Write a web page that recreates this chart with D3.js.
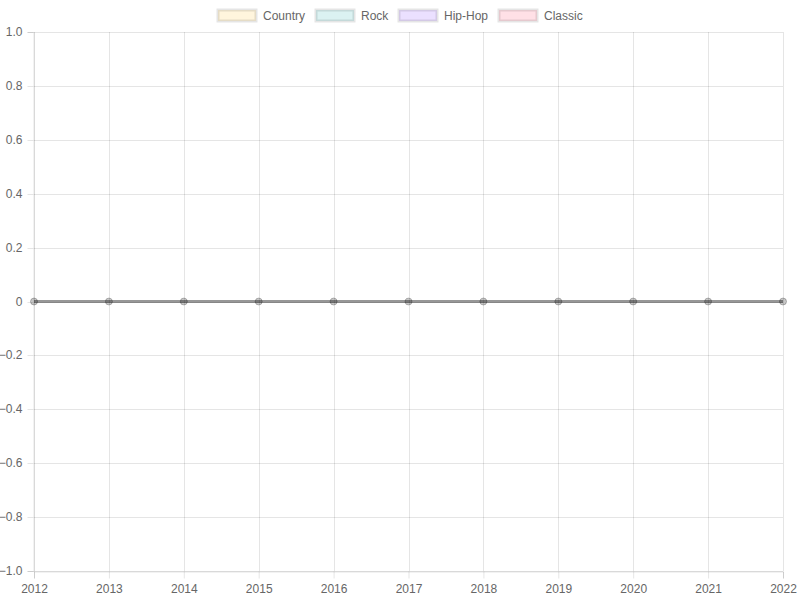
<!DOCTYPE html>
<html><head><meta charset="utf-8">
<script src="https://cdn.jsdelivr.net/npm/d3@7"></script>
<style>body{margin:0;background:#fff}svg{display:block;font-family:"Liberation Sans",Arial,sans-serif}</style>
</head><body><svg id="c" width="800" height="600"></svg>
<script>
const years = ["2012","2013","2014","2015","2016","2017","2018","2019","2020","2021","2022"];
const seriesNames = ["Country","Rock","Hip-Hop","Classic"];
const seriesFill = ["rgba(255,206,86,0.2)","rgba(75,192,192,0.2)","rgba(153,102,255,0.2)","rgba(255,99,132,0.2)"];
const country = [0,0,0,0,0,0,0,0,0,0,0];
const rock = [0,0,0,0,0,0,0,0,0,0,0];
const hipHop = [0,0,0,0,0,0,0,0,0,0,0];
const classic = [0,0,0,0,0,0,0,0,0,0,0];
const yTicks = [-1.0,-0.8,-0.6,-0.4,-0.2,0,0.2,0.4,0.6,0.8,1.0];
const seriesData = [country, rock, hipHop, classic];

const svg = d3.select("#c");
const L = 34, R = 783, T = 32, B = 571;
const x = d3.scalePoint().domain(years).range([L, R]);
const y = d3.scaleLinear().domain([-1, 1]).range([B, T]);
const grid = "rgba(0,0,0,0.1)";

// y grid + ticks
const yAxis = d3.axisLeft(y).tickValues(yTicks).tickSize(6).tickPadding(5)
  .tickFormat(d => d === 0 ? "0" : d3.format(".1f")(d));
const gy = svg.append("g").attr("transform", `translate(${L - 0.5},0)`).call(yAxis);
gy.select(".domain").attr("stroke", grid);
gy.selectAll(".tick line").attr("stroke", grid);
gy.selectAll(".tick text").attr("fill", "#666").style("font-size", "12px");
svg.append("g").selectAll("line").data(yTicks).join("line")
  .attr("x1", L).attr("x2", R).attr("y1", d => Math.round(y(d)) + 0.5).attr("y2", d => Math.round(y(d)) + 0.5)
  .attr("stroke", grid);
gy.selectAll(".tick").attr("transform", d => `translate(0,${Math.round(y(d)) + 0.5})`);

// x grid + ticks
const xAxis = d3.axisBottom(x).tickSize(7).tickPadding(6);
const gx = svg.append("g").attr("transform", `translate(0,${B + 0.5})`).call(xAxis);
gx.select(".domain").attr("stroke", grid);
gx.selectAll(".tick line").attr("stroke", grid);
gx.selectAll(".tick text").attr("fill", "#666").style("font-size", "12px");
svg.append("g").selectAll("line").data(years).join("line")
  .attr("x1", d => Math.round(x(d)) + 0.5).attr("x2", d => Math.round(x(d)) + 0.5).attr("y1", T).attr("y2", B)
  .attr("stroke", grid);

// lines
const line = d3.line().x((d, i) => x(years[i])).y(d => y(d));
seriesData.forEach((s, k) => {
  svg.append("path").datum(s).attr("d", line).attr("fill", "none")
    .attr("stroke", "rgba(0,0,0,0.12)").attr("stroke-width", 3);
});
seriesData.forEach((s, k) => {
  svg.append("g").selectAll("circle").data(s).join("circle")
    .attr("cx", (d, i) => x(years[i])).attr("cy", d => y(d)).attr("r", 3.5)
    .attr("fill", "rgba(0,0,0,0.06)").attr("stroke", "rgba(0,0,0,0.06)").attr("stroke-width", 1);
});

// legend
const legX = [217, 315, 398, 498];
const leg = svg.append("g");
seriesNames.forEach((n, k) => {
  leg.append("rect").attr("x", legX[k] + 1).attr("y", 10).attr("width", 38).attr("height", 11)
    .attr("fill", seriesFill[k]).attr("stroke", "rgba(0,0,0,0.1)").attr("stroke-width", 3);
  leg.append("text").attr("x", legX[k] + 46).attr("y", 20).attr("fill", "#666")
    .style("font-size", "12px").text(n);
});
</script></body></html>
